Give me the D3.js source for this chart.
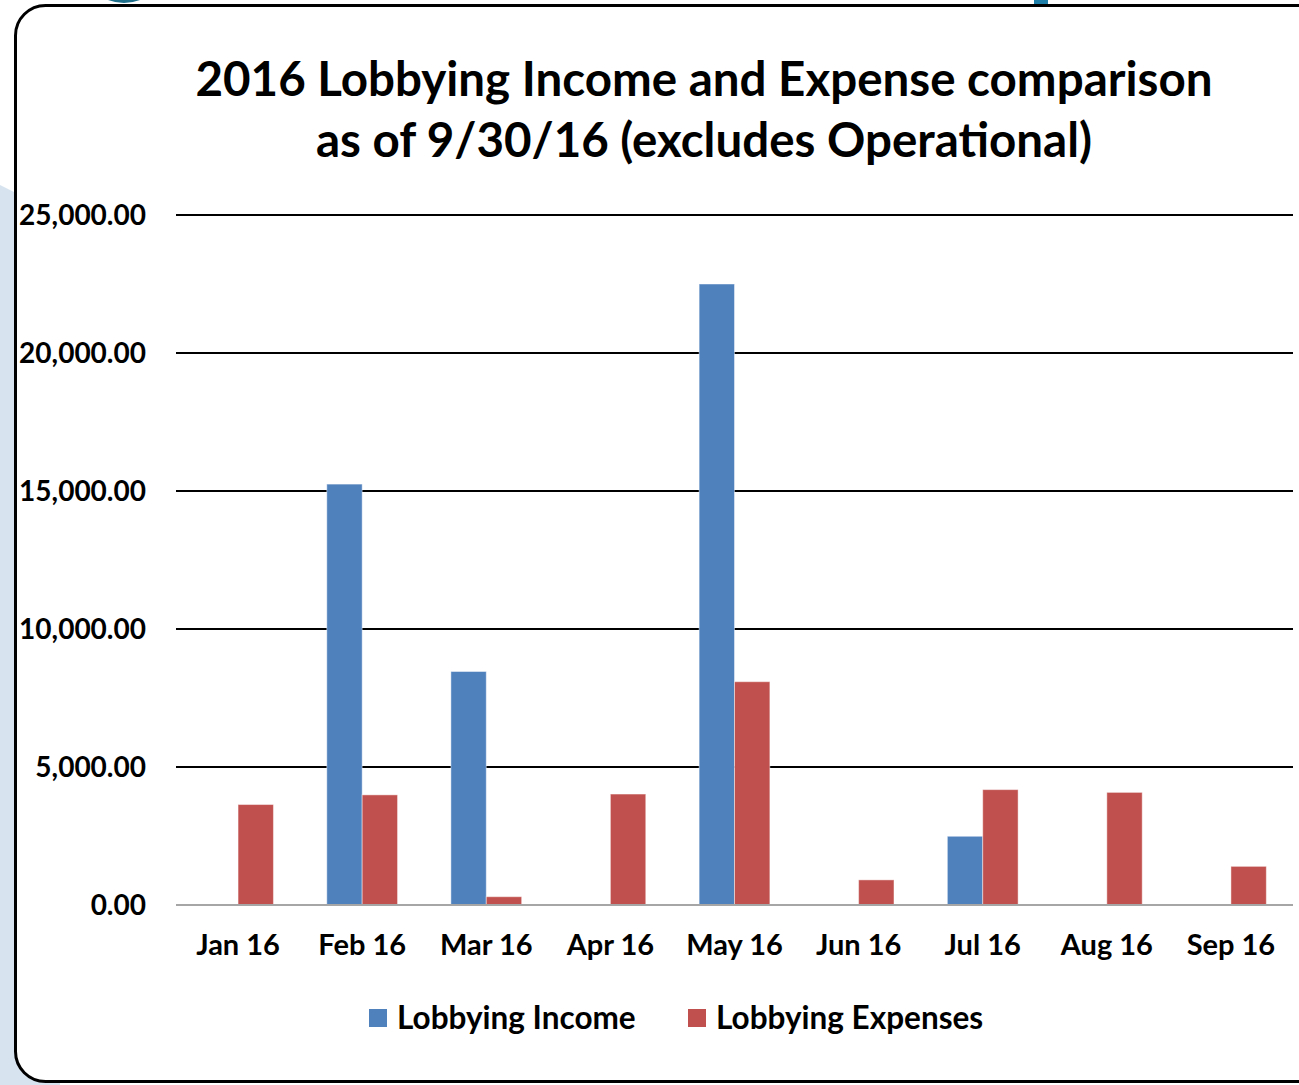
<!DOCTYPE html>
<html>
<head>
<meta charset="utf-8">
<script src="https://cdn.jsdelivr.net/npm/d3@7"></script>
<style>
  html, body { margin: 0; padding: 0; background: #ffffff; }
  svg { display: block; }
  text { font-family: Lato, "Open Sans", sans-serif; font-weight: 700; fill: #000; }
</style>
</head>
<body>
<div id="chart"></div>
<script>
// data
const months = ["Jan 16", "Feb 16", "Mar 16", "Apr 16", "May 16", "Jun 16", "Jul 16", "Aug 16", "Sep 16"];
const income = [0, 15250, 8460, 0, 22500, 0, 2490, 0, 0];
const expenses = [3640, 3990, 300, 4020, 8090, 910, 4180, 4080, 1400];
const seriesNames = ["Lobbying Income", "Lobbying Expenses"];
const seriesColors = ["#4F81BD", "#C0504D"];
const yTicks = [0, 5000, 10000, 15000, 20000, 25000];
const titleLines = ["2016 Lobbying Income and Expense comparison", "as of 9/30/16 (excludes Operational)"];

const W = 1299, H = 1085;
const svg = d3.select("#chart").append("svg")
    .attr("width", W)
    .attr("height", H);

// slide background bits around the chart box
svg.append("path")
    .attr("d", "M0,185 C20,195 40,205 60,215 L60,1085 L0,1085 Z")
    .attr("fill", "#d7e3ee");
svg.append("path")
    .attr("d", "M108,0 Q124,6 140,0 Z")
    .attr("fill", "#1f6f8b");
svg.append("rect")
    .attr("x", 1034).attr("y", 0).attr("width", 14).attr("height", 5)
    .attr("fill", "#1f7fa8");

// chart box
svg.append("rect")
    .attr("x", 15.5).attr("y", 5.5)
    .attr("width", 1320).attr("height", 1076)
    .attr("rx", 30).attr("ry", 30)
    .attr("fill", "#fff")
    .attr("stroke", "#000")
    .attr("stroke-width", 3);

const plot = { left: 176, right: 1293, top: 215, bottom: 905 };

const x = d3.scaleBand()
    .domain(months)
    .range([plot.left, plot.right])
    .paddingInner(0.43)
    .paddingOuter(0.215);

const xSub = d3.scaleBand()
    .domain(seriesNames)
    .range([0, x.bandwidth()]);

const y = d3.scaleLinear()
    .domain([0, 25000])
    .range([plot.bottom, plot.top]);

// gridlines
svg.append("g")
    .selectAll("line")
    .data(yTicks.filter(d => d > 0))
    .join("line")
    .attr("x1", plot.left).attr("x2", plot.right)
    .attr("y1", d => y(d)).attr("y2", d => y(d))
    .attr("stroke", "#000")
    .attr("stroke-width", 2);

// y labels
const fmt = d3.format(",.2f");
svg.append("g")
    .selectAll("text")
    .data(yTicks)
    .join("text")
    .attr("x", 146)
    .attr("y", d => y(d))
    .attr("dy", "0.35em")
    .attr("text-anchor", "end")
    .style("font-size", "28px")
    .text(d => fmt(d));

// bars
const rows = months.map((m, i) => ({ month: m, values: [income[i], expenses[i]] }));
const groups = svg.append("g")
    .selectAll("g")
    .data(rows)
    .join("g")
    .attr("transform", d => `translate(${x(d.month)},0)`);

groups.selectAll("rect")
    .data(d => d.values.map((v, j) => ({ name: seriesNames[j], value: v, color: seriesColors[j] })))
    .join("rect")
    .filter(d => d.value > 0)
    .attr("x", d => xSub(d.name))
    .attr("width", xSub.bandwidth())
    .attr("y", d => y(d.value))
    .attr("height", d => y(0) - y(d.value))
    .attr("fill", d => d.color)
    .attr("stroke", "rgba(255,255,255,0.45)")
    .attr("stroke-width", 1);

// baseline
svg.append("line")
    .attr("x1", plot.left).attr("x2", plot.right)
    .attr("y1", plot.bottom).attr("y2", plot.bottom)
    .attr("stroke", "#a6a6a6")
    .attr("stroke-width", 2);

// x labels
svg.append("g")
    .selectAll("text")
    .data(months)
    .join("text")
    .attr("x", d => x(d) + x.bandwidth() / 2)
    .attr("y", 955)
    .attr("text-anchor", "middle")
    .style("font-size", "29px")
    .text(d => d);

// title
svg.append("g")
    .selectAll("text")
    .data(titleLines)
    .join("text")
    .attr("x", 704)
    .attr("y", (d, i) => 96 + i * 61)
    .attr("text-anchor", "middle")
    .style("font-size", "47.5px")
    .text(d => d);

// legend
const legendItems = [
    { name: seriesNames[0], color: seriesColors[0], x: 369 },
    { name: seriesNames[1], color: seriesColors[1], x: 688 }
];
const legend = svg.append("g")
    .selectAll("g")
    .data(legendItems)
    .join("g")
    .attr("transform", d => `translate(${d.x},1009)`);

legend.append("rect")
    .attr("width", 18).attr("height", 18)
    .attr("fill", d => d.color);

legend.append("text")
    .attr("x", 28)
    .attr("y", 20)
    .style("font-size", "31.5px")
    .text(d => d.name);
</script>
</body>
</html>
